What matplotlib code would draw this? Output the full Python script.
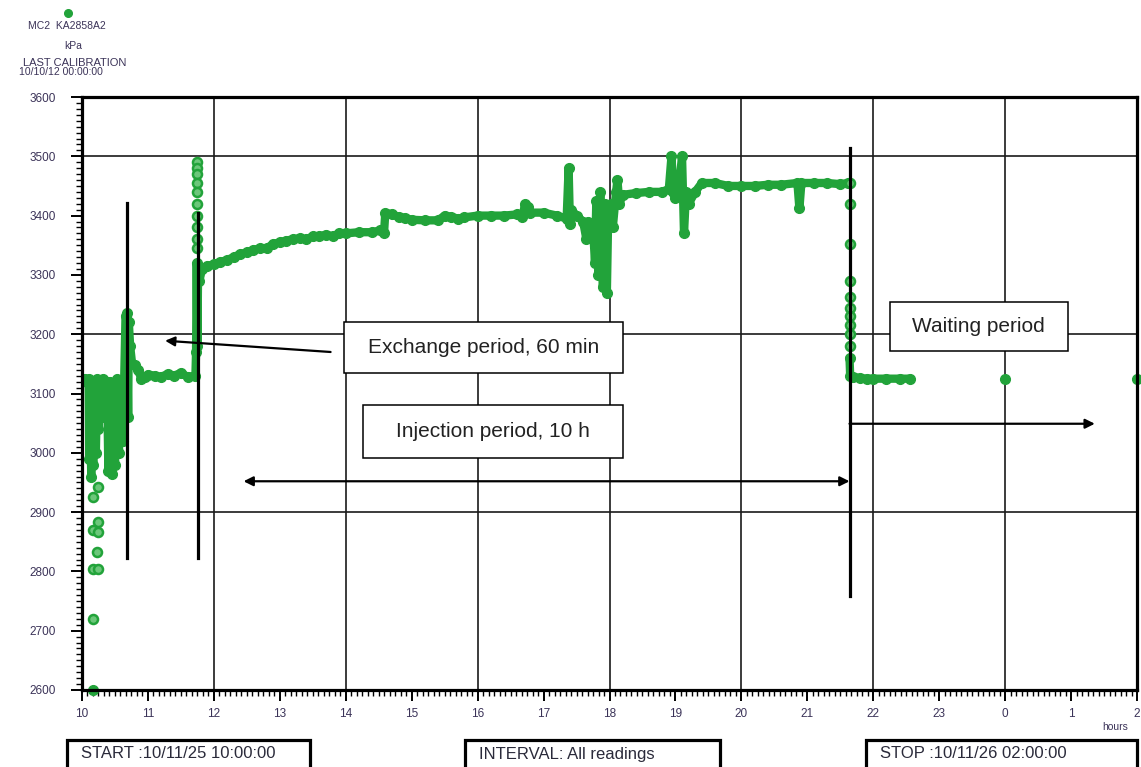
import numpy as np
import matplotlib
matplotlib.use("Agg")
import matplotlib.pyplot as plt
from matplotlib.patches import Rectangle
from matplotlib.ticker import MultipleLocator

plt.rcParams['font.family'] = ['Liberation Sans', 'DejaVu Sans']

# ---- readings: time in hours since 00:00 on 10/11/25, pressure in kPa ----
trace_hours = [
    10.00, 10.05, 10.08, 10.10, 10.11, 10.12, 10.14, 10.15, 10.17, 10.19,
    10.21, 10.23, 10.25, 10.27, 10.30, 10.32, 10.36, 10.38, 10.40, 10.43,
    10.45, 10.48, 10.50, 10.53, 10.56, 10.59, 10.62, 10.64, 10.66, 10.68,
    10.70, 10.71, 10.73, 10.76, 10.80, 10.85, 10.90, 10.95, 11.00, 11.10,
    11.20, 11.30, 11.40, 11.50, 11.60, 11.72, 11.73, 11.74, 11.75, 11.76,
    11.78, 11.82, 11.90, 12.00, 12.10, 12.20, 12.30, 12.40, 12.50, 12.60,
    12.70, 12.80, 12.90, 13.00, 13.10, 13.20, 13.30, 13.40, 13.50, 13.60,
    13.70, 13.80, 13.90, 14.00, 14.20, 14.40, 14.52, 14.58, 14.60, 14.70,
    14.80, 14.90, 15.00, 15.20, 15.40, 15.50, 15.60, 15.70, 15.80, 16.00,
    16.20, 16.40, 16.60, 16.68, 16.72, 16.76, 16.80, 17.00, 17.20, 17.35,
    17.38, 17.40, 17.42, 17.50, 17.60, 17.65, 17.68, 17.75, 17.78, 17.80,
    17.83, 17.86, 17.90, 17.93, 17.96, 17.98, 18.02, 18.05, 18.10, 18.12,
    18.15, 18.20, 18.40, 18.60, 18.80, 18.90, 18.94, 18.97, 19.00, 19.05,
    19.10, 19.13, 19.16, 19.20, 19.30, 19.40, 19.60, 19.80, 20.00, 20.20,
    20.40, 20.60, 20.85, 20.88, 20.91, 21.10, 21.30, 21.50, 21.62,
]
trace_kpa = [
    3125, 3125, 3120, 3125, 2990, 3120, 2960, 3110, 2980, 3120,
    3000, 3125, 3040, 3120, 3060, 3125, 3090, 3120, 2970, 3120,
    2965, 3110, 2980, 3125, 3000, 3120, 3020, 3125, 3230, 3235,
    3060, 3220, 3180, 3150, 3148, 3140, 3125, 3128, 3132, 3130,
    3128, 3133, 3130, 3135, 3128, 3130, 3170, 3320, 3180, 3300,
    3290, 3310, 3315, 3318, 3322, 3325, 3330, 3335, 3338, 3342,
    3345, 3345, 3352, 3355, 3358, 3360, 3362, 3360, 3365, 3365,
    3368, 3365, 3370, 3370, 3372, 3372, 3375, 3370, 3405, 3402,
    3398, 3396, 3393, 3392, 3392, 3400, 3398, 3395, 3397, 3400,
    3400, 3400, 3402, 3398, 3420, 3415, 3405, 3405, 3400, 3395,
    3480, 3385, 3410, 3400, 3390, 3360, 3390, 3380, 3320, 3425,
    3300, 3440, 3280, 3420, 3270, 3400, 3420, 3380, 3440, 3460,
    3420, 3435, 3438, 3440, 3440, 3445, 3500, 3440, 3430, 3445,
    3500, 3370, 3440, 3420, 3440, 3455, 3455, 3450, 3450, 3450,
    3452, 3452, 3455, 3412, 3455, 3455, 3455, 3453, 3455,
]

# isolated readings during the start-up, the injection jump and the pressure drop
sparse_hours = [
    10.24, 10.17, 10.24, 10.17, 10.24, 10.22, 10.17, 10.24, 10.17,
    11.74, 11.745, 11.74, 11.745, 11.74, 11.745, 11.74, 11.745, 11.74, 11.745,
    21.64, 21.64, 21.64, 21.64, 21.64, 21.64, 21.64, 21.64, 21.64, 21.64,
]
sparse_kpa = [
    2942, 2926, 2883, 2870, 2866, 2833, 2804, 2804, 2720,
    3490, 3480, 3470, 3455, 3440, 3420, 3400, 3380, 3360, 3345,
    3455, 3420, 3352, 3290, 3262, 3245, 3230, 3215, 3200, 3180,
]

# waiting period readings
wait_hours = [21.64, 21.65, 21.70, 21.80, 21.90, 22.00, 22.20, 22.40, 22.55]
wait_kpa = [3160, 3130, 3128, 3126, 3125, 3125, 3125, 3125, 3125]
edge_hours = [10.16, 24.0, 26.0]
edge_kpa = [2600, 3125, 3125]

x_tick_hours = list(range(10, 27))
x_tick_labels = ['10', '11', '12', '13', '14', '15', '16', '17', '18', '19',
                 '20', '21', '22', '23', '0', '1', '2']
y_ticks = list(range(2600, 3601, 100))
grid_hours = [12, 14, 16, 18, 20, 22, 24]
grid_kpa = [2900, 3200, 3500]

GREEN = '#22a33a'
TICKC = '#3b3358'

W, H = 1141, 767
fig = plt.figure(figsize=(W / 100, H / 100), dpi=100)
ax = fig.add_axes([82 / W, 1 - 690 / H, (1137 - 82) / W, (690 - 97) / H])
ax.set_xlim(10, 26)
ax.set_ylim(2600, 3600)

for g in grid_hours:
    ax.axvline(g, color='#1a1a1a', lw=1.2, zorder=1)
for g in grid_kpa:
    ax.axhline(g, color='#1a1a1a', lw=1.2, zorder=1)

ax.plot(trace_hours, trace_kpa, color=GREEN, lw=6, marker='o', ms=7,
        mfc=GREEN, mec=GREEN, solid_joinstyle='round', solid_capstyle='round',
        zorder=3)
ax.plot(wait_hours, wait_kpa, color=GREEN, lw=6, marker='o', ms=7,
        mfc=GREEN, mec=GREEN, solid_capstyle='round', zorder=3)
ax.plot(sparse_hours, sparse_kpa, ls='none', marker='o', ms=6.5,
        mfc='#6cc77a', mec=GREEN, mew=1.8, zorder=3)
ax.plot(edge_hours, edge_kpa, ls='none', marker='o', ms=7,
        mfc=GREEN, mec=GREEN, zorder=3, clip_on=False)

# period markers
ax.plot([10.684, 10.684], [2822, 3421], color='black', lw=2.3, zorder=4)
ax.plot([11.763, 11.763], [2822, 3404], color='black', lw=2.3, zorder=4)
ax.plot([21.64, 21.64], [2759, 3514], color='black', lw=2.3, zorder=4)

arrow = dict(arrowstyle='-|>', lw=1.6, color='black', mutation_scale=14,
             shrinkA=0, shrinkB=0)
ax.annotate('', xy=(11.26, 3189), xytext=(13.77, 3170), arrowprops=arrow, zorder=5)
ax.annotate('', xy=(12.45, 2952), xytext=(21.64, 2952),
            arrowprops=dict(arrowstyle='<|-|>', lw=1.6, color='black',
                            mutation_scale=14, shrinkA=0, shrinkB=0), zorder=5)
ax.annotate('', xy=(25.36, 3049), xytext=(21.64, 3049), arrowprops=arrow, zorder=5)

boxes = [
    ((13.98, 3135), 18.21 - 13.98, 3221 - 3135, 'Exchange period, 60 min'),
    ((14.255, 2991), 18.207 - 14.255, 3081 - 2991, 'Injection period, 10 h'),
    ((22.249, 3172), 24.954 - 22.249, 3254 - 3172, 'Waiting period'),
]
for (x0, y0), w, h, label in boxes:
    ax.add_patch(Rectangle((x0, y0), w, h, fc='white', ec='black', lw=1.1, zorder=6))
    ax.text(x0 + w / 2, y0 + h / 2, label, ha='center', va='center',
            fontsize=15, color='#222222', zorder=7)

for s in ax.spines.values():
    s.set_linewidth(2.3)
    s.set_zorder(8)

ax.set_xticks(x_tick_hours)
ax.set_xticklabels(x_tick_labels)
ax.set_yticks(y_ticks)
ax.xaxis.set_minor_locator(MultipleLocator(1 / 12))
ax.yaxis.set_minor_locator(MultipleLocator(10))
ax.tick_params(which='major', direction='out', length=8, width=1.4,
               labelsize=8.5, labelcolor=TICKC)
ax.tick_params(which='minor', direction='out', length=4.5, width=1.0)
ax.tick_params(axis='y', which='major', pad=11)
ax.tick_params(axis='x', which='major', pad=5)


def ftext(px, py, s, **kw):
    fig.text(px / W, 1 - py / H, s, **kw)


# header
fig.add_artist(plt.Line2D([68 / W], [1 - 13 / H], marker='o', ms=5.5, color=GREEN,
                          transform=fig.transFigure))
ftext(67, 26, 'MC2  KA2858A2', ha='center', va='center', fontsize=7.5, color=TICKC)
ftext(73, 46, 'kPa', ha='center', va='center', fontsize=7.5, color=TICKC)
ftext(75, 63, 'LAST CALIBRATION', ha='center', va='center', fontsize=8, color=TICKC)
ftext(61, 72, '10/10/12 00:00:00', ha='center', va='center', fontsize=7.5, color=TICKC)
ftext(1128, 727, 'hours', ha='right', va='center', fontsize=7.5, color=TICKC)

# footer boxes
footer = [(67, 310, 'START :10/11/25 10:00:00'),
          (465, 720, 'INTERVAL: All readings'),
          (866, 1137, 'STOP :10/11/26 02:00:00')]
for x0, x1, label in footer:
    fig.add_artist(Rectangle((x0 / W, -0.02), (x1 - x0) / W, 0.02 + (767 - 740) / H,
                             transform=fig.transFigure, fc='white', ec='black',
                             lw=2.3))
    ftext(x0 + 14, 754, label, ha='left', va='center', fontsize=12, color='#2a2a3a')

fig.savefig('out.png', dpi=100)
